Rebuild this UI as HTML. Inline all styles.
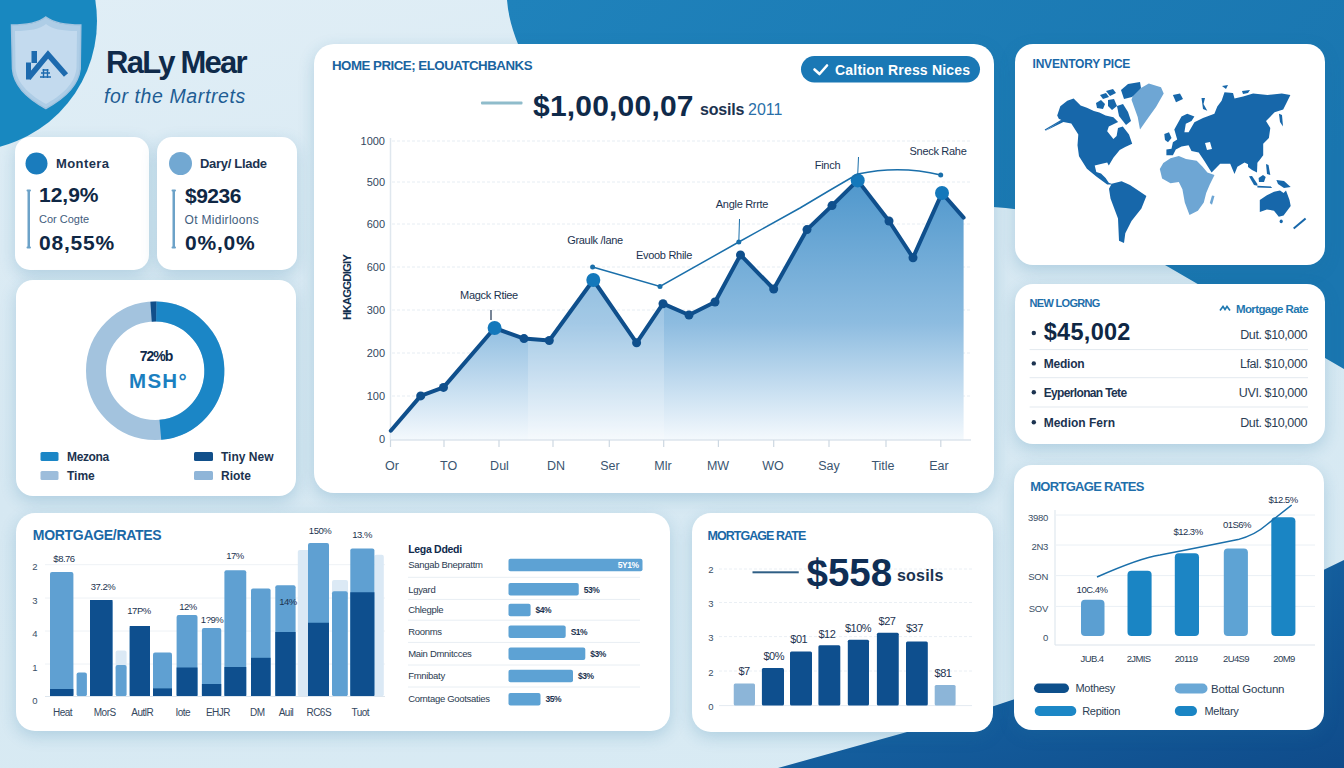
<!DOCTYPE html>
<html><head><meta charset="utf-8">
<style>
html,body{margin:0;padding:0;}
body{width:1344px;height:768px;overflow:hidden;position:relative;font-family:"Liberation Sans", sans-serif;
background:linear-gradient(170deg,#e0eef6 0%,#d6e8f2 50%,#d9ebf4 100%);}
.card{position:absolute;background:#fff;border-radius:16px;box-shadow:0 5px 16px rgba(30,115,160,0.22);}
svg{position:absolute;left:0;top:0;}
</style></head><body>
<svg width="1344" height="768" viewBox="0 0 1344 768" style="z-index:0">
<defs>
<linearGradient id="tr" x1="0" y1="0" x2="1" y2="0.4"><stop offset="0" stop-color="#1f82bb"/><stop offset="1" stop-color="#1a76b0"/></linearGradient>
<linearGradient id="br" x1="0" y1="0" x2="1" y2="1"><stop offset="0" stop-color="#1a72b2"/><stop offset="1" stop-color="#0f4b8a"/></linearGradient>
</defs>
<path d="M507,0 Q509,30 530,70 L700,170 Q850,205 993,207 C1070,212 1120,237 1165,265 L1344,369 L1344,0 Z" fill="url(#tr)"/>
<path d="M778,768 L907,732 Q1100,680 1344,560 L1344,768 Z" fill="url(#br)"/>
</svg>
<div class="card" style="left:15px;top:137px;width:134.0px;height:133.0px;border-radius:15px"></div>
<div class="card" style="left:156.5px;top:137px;width:140.0px;height:133.0px;border-radius:15px"></div>
<div class="card" style="left:16px;top:279.5px;width:279.5px;height:216.0px;border-radius:17px"></div>
<div class="card" style="left:313.5px;top:43.5px;width:680.0px;height:449.5px;border-radius:20px"></div>
<div class="card" style="left:1014.6px;top:43.7px;width:310.8px;height:221.3px;border-radius:18px"></div>
<div class="card" style="left:1014.8px;top:284.4px;width:310.2px;height:159.4px;border-radius:18px"></div>
<div class="card" style="left:1014.3px;top:465.4px;width:310.2px;height:264.3px;border-radius:18px"></div>
<div class="card" style="left:15.6px;top:512.5px;width:654.4px;height:218.8px;border-radius:19px"></div>
<div class="card" style="left:692px;top:513px;width:300.5px;height:219.0px;border-radius:19px"></div>
<svg width="1344" height="768" viewBox="0 0 1344 768" style="z-index:2;font-family:"Liberation Sans", sans-serif">
<circle cx="-33" cy="21" r="130" fill="#1888c0"/>
<path d="M45.8,17 C38,23 28,25 11.5,25 L12.5,69 C14,88 30,100 45.8,108.5 C61.6,100 78,88 80.2,69 L80.8,25 C64,25 54,23 45.8,17 Z" fill="#aecde6" stroke="#a2c3df" stroke-width="1.5"/>
<path d="M46,24 C40,29 30,31 15,31 L15.5,68 C17,85 32,96 46,104 C60,96 75,85 76.5,68 L77,31 C62,31 52,29 46,24 Z" fill="#c3daee"/>
<path d="M28.5,78 L48,54.5 L66,75" stroke="#1d6aae" stroke-width="5.5" fill="none" stroke-linecap="butt" stroke-linejoin="miter"/>
<rect x="26" y="62.5" width="5" height="17" rx="0" fill="#1d6aae" />
<rect x="31.5" y="51" width="5.5" height="12" rx="0" fill="#1d6aae" />
<path d="M40,77 h11 M41,73 h9 M42.5,70 h6 M43.5,69 v9 M47.5,69 v9" stroke="#1d6aae" stroke-width="1.4"/>
<text x="106" y="73" font-size="31" fill="#0f2a4a" font-weight="bold" letter-spacing="-1.75">RaLy Mear</text>
<text x="104" y="102.5" font-size="19.5" fill="#1e5d94" font-style="italic" letter-spacing="0.6">for the Martrets</text>
<circle cx="36.5" cy="163.5" r="11" fill="#1a7cbd"/>
<text x="56" y="168" font-size="13" fill="#1c3350" font-weight="bold" letter-spacing="0.4">Montera</text>
<rect x="27.5" y="190" width="2.5" height="58" rx="1" fill="#6ca2c8" />
<rect x="26.5" y="189.5" width="4.5" height="2" rx="1" fill="#6ca2c8" />
<rect x="26.5" y="246.5" width="4.5" height="2" rx="1" fill="#6ca2c8" />
<text x="39" y="201.5" font-size="21" fill="#0f2744" font-weight="bold">12,9%</text>
<text x="39" y="223" font-size="11" fill="#3f5d7d">Cor Cogte</text>
<text x="39" y="250" font-size="21" fill="#0f2744" font-weight="bold" letter-spacing="0.8">08,55%</text>
<circle cx="180.5" cy="163.5" r="11.5" fill="#72a8d2"/>
<text x="200" y="168" font-size="13" fill="#1c3350" font-weight="bold" letter-spacing="-0.3">Dary/ Llade</text>
<rect x="172.5" y="190" width="2.5" height="58" rx="1" fill="#6ca2c8" />
<rect x="171.5" y="189.5" width="4.5" height="2" rx="1" fill="#6ca2c8" />
<rect x="171.5" y="246.5" width="4.5" height="2" rx="1" fill="#6ca2c8" />
<text x="185" y="202.5" font-size="21" fill="#0f2744" font-weight="bold" letter-spacing="-0.5">$9236</text>
<text x="184.5" y="223.5" font-size="12" fill="#3f5d7d" letter-spacing="0.3">Ot Midirloons</text>
<text x="185" y="250" font-size="21" fill="#0f2744" font-weight="bold" letter-spacing="0.8">0%,0%</text>
<circle cx="155.2" cy="370.8" r="59.2" fill="none" stroke="#a3c3de" stroke-width="20.0"/>
<path d="M156.23,311.61 A59.2,59.2 0 0 1 160.36,429.77" fill="none" stroke="#1b86c6" stroke-width="20.0"/>
<path d="M151.07,311.74 A59.2,59.2 0 0 1 156.23,311.61" fill="none" stroke="#114f8a" stroke-width="20.0"/>
<text x="156" y="360.5" font-size="14" fill="#102a4c" font-weight="bold" text-anchor="middle" letter-spacing="-1">72%b</text>
<text x="158.5" y="387.5" font-size="20.5" fill="#1b7fc0" font-weight="bold" text-anchor="middle" letter-spacing="1.3">MSH°</text>
<rect x="40.5" y="452" width="18" height="9" rx="1.5" fill="#1b86c6" />
<text x="67" y="460.5" font-size="12" fill="#1c3350" font-weight="bold" letter-spacing="-0.35">Mezona</text>
<rect x="40.5" y="471" width="18" height="9" rx="1.5" fill="#9dbddb" />
<text x="67" y="479.5" font-size="12" fill="#1c3350" font-weight="bold">Time</text>
<rect x="194" y="452" width="19" height="9" rx="1.5" fill="#114f8a" />
<text x="221" y="460.5" font-size="12" fill="#1c3350" font-weight="bold">Tiny New</text>
<rect x="194" y="471" width="19" height="9" rx="1.5" fill="#8fb5d8" />
<text x="221" y="479.5" font-size="12" fill="#1c3350" font-weight="bold">Riote</text>
<text x="332" y="69.5" font-size="13.3" fill="#1a64a0" font-weight="bold" letter-spacing="-0.5">HOME PRICE; ELOUATCHBANKS</text>
<rect x="801" y="56" width="179" height="26.5" rx="13.25" fill="#1a78b5" />
<path d="M814.5,69.5 L819.5,74 L827,65.5" stroke="#fff" stroke-width="2.6" fill="none" stroke-linecap="round" stroke-linejoin="round"/>
<text x="835" y="74.5" font-size="14" fill="#ffffff" font-weight="bold" letter-spacing="0.2">Caltion Rress Nices</text>
<rect x="481" y="101.5" width="41.5" height="3" rx="1" fill="#8fbccb" />
<text x="533" y="115.5" font-size="30" fill="#0f2a4a" font-weight="bold" letter-spacing="0.2">$1,00,00,07</text>
<text x="700" y="114.5" font-size="16" fill="#1c3350" font-weight="bold" letter-spacing="-0.2">sosils</text>
<text x="748" y="114.5" font-size="16" fill="#2a6fa8">2011</text>
<line x1="392" y1="141" x2="970" y2="141" stroke="#e6edf3" stroke-width="1" stroke-dasharray="3,2"/>
<text x="385" y="145" font-size="11" fill="#33475e" text-anchor="end">1000</text>
<line x1="392" y1="182" x2="970" y2="182" stroke="#e6edf3" stroke-width="1" stroke-dasharray="3,2"/>
<text x="385" y="186" font-size="11" fill="#33475e" text-anchor="end">500</text>
<line x1="392" y1="224" x2="970" y2="224" stroke="#e6edf3" stroke-width="1" stroke-dasharray="3,2"/>
<text x="385" y="228" font-size="11" fill="#33475e" text-anchor="end">600</text>
<line x1="392" y1="267" x2="970" y2="267" stroke="#e6edf3" stroke-width="1" stroke-dasharray="3,2"/>
<text x="385" y="271" font-size="11" fill="#33475e" text-anchor="end">600</text>
<line x1="392" y1="310" x2="970" y2="310" stroke="#e6edf3" stroke-width="1" stroke-dasharray="3,2"/>
<text x="385" y="314" font-size="11" fill="#33475e" text-anchor="end">300</text>
<line x1="392" y1="353" x2="970" y2="353" stroke="#e6edf3" stroke-width="1" stroke-dasharray="3,2"/>
<text x="385" y="357" font-size="11" fill="#33475e" text-anchor="end">200</text>
<line x1="392" y1="396" x2="970" y2="396" stroke="#e6edf3" stroke-width="1" stroke-dasharray="3,2"/>
<text x="385" y="400" font-size="11" fill="#33475e" text-anchor="end">100</text>
<text x="385" y="443" font-size="11" fill="#33475e" text-anchor="end">0</text>
<line x1="390.5" y1="138" x2="390.5" y2="440" stroke="#dfe7ee" stroke-width="1.5"/>
<text x="0" y="0" font-size="11.5" font-weight="bold" fill="#12304f" text-anchor="middle" letter-spacing="-0.9" transform="translate(350.5,287.5) rotate(-90)">HKAGGDIGIY</text>
<defs><linearGradient id="af" x1="0" y1="0" x2="0" y2="1"><stop offset="0" stop-color="#4f97cc"/><stop offset="0.55" stop-color="#8dbce0"/><stop offset="1" stop-color="#f4f9fd"/></linearGradient></defs>
<path d="M390.8,430.7 L420.7,395.9 L443.5,387.4 L494.6,328 L524,338.6 L549.3,340.5 L593.3,280 L636.6,342.8 L663,303.7 L689,315 L715,302 L740.5,254.9 L773.7,289 L807,229.6 L832,205.6 L857.7,180.4 L889,221 L913,257.7 L942,193 L963.6,217.6 L963.6,440 L390.8,440 Z" fill="url(#af)"/>
<defs><clipPath id="ac"><path d="M390.8,430.7 L420.7,395.9 L443.5,387.4 L494.6,328 L524,338.6 L549.3,340.5 L593.3,280 L636.6,342.8 L663,303.7 L689,315 L715,302 L740.5,254.9 L773.7,289 L807,229.6 L832,205.6 L857.7,180.4 L889,221 L913,257.7 L942,193 L963.6,217.6 L963.6,440 L390.8,440 Z"/></clipPath></defs>
<rect x="528" y="150" width="136" height="290" fill="#ffffff" opacity="0.2" clip-path="url(#ac)"/>
<line x1="390" y1="440" x2="971" y2="440" stroke="#dce5ed" stroke-width="1.5"/>
<path d="M390.8,430.7 L420.7,395.9 L443.5,387.4 L494.6,328 L524,338.6 L549.3,340.5 L593.3,280 L636.6,342.8 L663,303.7 L689,315 L715,302 L740.5,254.9 L773.7,289 L807,229.6 L832,205.6 L857.7,180.4 L889,221 L913,257.7 L942,193 L963.6,217.6" fill="none" stroke="#0f4f8c" stroke-width="4" stroke-linejoin="round" stroke-linecap="round"/>
<circle cx="420.7" cy="395.9" r="4.5" fill="#0f4f8c"/>
<circle cx="443.5" cy="387.4" r="4.5" fill="#0f4f8c"/>
<circle cx="494.6" cy="328" r="4.5" fill="#0f4f8c"/>
<circle cx="524" cy="338.6" r="4.5" fill="#0f4f8c"/>
<circle cx="549.3" cy="340.5" r="4.5" fill="#0f4f8c"/>
<circle cx="593.3" cy="280" r="4.5" fill="#0f4f8c"/>
<circle cx="636.6" cy="342.8" r="4.5" fill="#0f4f8c"/>
<circle cx="663" cy="303.7" r="4.5" fill="#0f4f8c"/>
<circle cx="689" cy="315" r="4.5" fill="#0f4f8c"/>
<circle cx="715" cy="302" r="4.5" fill="#0f4f8c"/>
<circle cx="740.5" cy="254.9" r="4.5" fill="#0f4f8c"/>
<circle cx="773.7" cy="289" r="4.5" fill="#0f4f8c"/>
<circle cx="807" cy="229.6" r="4.5" fill="#0f4f8c"/>
<circle cx="832" cy="205.6" r="4.5" fill="#0f4f8c"/>
<circle cx="857.7" cy="180.4" r="4.5" fill="#0f4f8c"/>
<circle cx="889" cy="221" r="4.5" fill="#0f4f8c"/>
<circle cx="913" cy="257.7" r="4.5" fill="#0f4f8c"/>
<circle cx="942" cy="193" r="4.5" fill="#0f4f8c"/>
<circle cx="494.6" cy="328" r="7" fill="#1478bb"/>
<circle cx="593.3" cy="280" r="7" fill="#1478bb"/>
<circle cx="857.7" cy="180.4" r="7" fill="#1478bb"/>
<circle cx="942" cy="193" r="7" fill="#1478bb"/>
<line x1="390.5" y1="440" x2="390.5" y2="447" stroke="#cdd8e2" stroke-width="1.2"/>
<text x="392" y="470" font-size="12.5" fill="#3a5570" text-anchor="middle">Or</text>
<line x1="444" y1="440" x2="444" y2="447" stroke="#cdd8e2" stroke-width="1.2"/>
<text x="448.6" y="470" font-size="12.5" fill="#3a5570" text-anchor="middle">TO</text>
<line x1="499" y1="440" x2="499" y2="447" stroke="#cdd8e2" stroke-width="1.2"/>
<text x="499.5" y="470" font-size="12.5" fill="#3a5570" text-anchor="middle">Dul</text>
<line x1="553" y1="440" x2="553" y2="447" stroke="#cdd8e2" stroke-width="1.2"/>
<text x="556" y="470" font-size="12.5" fill="#3a5570" text-anchor="middle">DN</text>
<line x1="609.3" y1="440" x2="609.3" y2="447" stroke="#cdd8e2" stroke-width="1.2"/>
<text x="610" y="470" font-size="12.5" fill="#3a5570" text-anchor="middle">Ser</text>
<line x1="663.7" y1="440" x2="663.7" y2="447" stroke="#cdd8e2" stroke-width="1.2"/>
<text x="663" y="470" font-size="12.5" fill="#3a5570" text-anchor="middle">Mlr</text>
<line x1="718.4" y1="440" x2="718.4" y2="447" stroke="#cdd8e2" stroke-width="1.2"/>
<text x="718" y="470" font-size="12.5" fill="#3a5570" text-anchor="middle">MW</text>
<line x1="773.7" y1="440" x2="773.7" y2="447" stroke="#cdd8e2" stroke-width="1.2"/>
<text x="773" y="470" font-size="12.5" fill="#3a5570" text-anchor="middle">WO</text>
<line x1="829" y1="440" x2="829" y2="447" stroke="#cdd8e2" stroke-width="1.2"/>
<text x="829" y="470" font-size="12.5" fill="#3a5570" text-anchor="middle">Say</text>
<line x1="886" y1="440" x2="886" y2="447" stroke="#cdd8e2" stroke-width="1.2"/>
<text x="883" y="470" font-size="12.5" fill="#3a5570" text-anchor="middle">Title</text>
<line x1="940.8" y1="440" x2="940.8" y2="447" stroke="#cdd8e2" stroke-width="1.2"/>
<text x="939" y="470" font-size="12.5" fill="#3a5570" text-anchor="middle">Ear</text>
<path d="M592.6,267 L660,286.5 L738.8,242 L800,208 Q830,190 857.7,174 Q900,165 940.7,175" fill="none" stroke="#1a6faa" stroke-width="1.5"/>
<circle cx="592.6" cy="267" r="2.5" fill="#1a6faa"/>
<circle cx="660" cy="286.5" r="2.5" fill="#1a6faa"/>
<circle cx="738.8" cy="242" r="2.5" fill="#1a6faa"/>
<circle cx="940.7" cy="175" r="2.5" fill="#1a6faa"/>
<line x1="738.8" y1="242" x2="739.5" y2="219" stroke="#1a6faa" stroke-width="1"/>
<line x1="857.7" y1="175" x2="858.5" y2="157" stroke="#1a6faa" stroke-width="1"/>
<line x1="491" y1="310" x2="491" y2="320" stroke="#1c3350" stroke-width="1.2"/>
<text x="489" y="299" font-size="11" fill="#1c3350" text-anchor="middle" letter-spacing="-0.3">Magck Rtiee</text>
<text x="595" y="244" font-size="11" fill="#1c3350" text-anchor="middle" letter-spacing="-0.3">Graulk /lane</text>
<text x="664" y="258.5" font-size="11" fill="#1c3350" text-anchor="middle" letter-spacing="-0.3">Evoob Rhile</text>
<text x="742" y="207.5" font-size="11" fill="#1c3350" text-anchor="middle" letter-spacing="-0.3">Angle Rrrte</text>
<text x="827.5" y="168.5" font-size="11" fill="#1c3350" text-anchor="middle" letter-spacing="-0.3">Finch</text>
<text x="938" y="155" font-size="11" fill="#1c3350" text-anchor="middle" letter-spacing="-0.3">Sneck Rahe</text>
<text x="1032.5" y="67.5" font-size="12" fill="#1a68a8" font-weight="bold" letter-spacing="-0.2">INVENTORY PICE</text>
<path d="M1057.2,115.6 L1060.3,106.3 L1067.3,100.8 L1073.6,98.4 L1080.6,105.5 L1086.9,107.8 L1093.9,110.9 L1099.4,112.5 L1105.6,115.6 L1113.4,117.2 L1118.1,121.9 L1108.8,126.6 L1107.2,131.3 L1113.4,139.0 L1116.6,136.0 L1118.0,128.0 L1122.8,126.6 L1129.0,134.4 L1132.2,143.8 L1125.2,146.9 L1119.7,150.0 L1113.4,157.8 L1108.8,165.6 L1107.2,162.5 L1100.9,164.0 L1094.7,165.6 L1096.3,171.9 L1101.0,173.4 L1105.6,178.0 L1108.8,182.8 L1113.4,184.4 L1107.2,184.4 L1096.3,176.6 L1086.9,168.8 L1079.0,156.3 L1077.5,145.3 L1078.3,134.4 L1071.3,123.4 L1063.4,121.9 L1044.7,131.3 L1061.9,120.3 L1058.8,118.8 Z" fill="#1767aa"/>
<path d="M1111.7,183.8 L1121.6,181.3 L1130.0,185.0 L1139.0,191.0 L1146.4,196.0 L1141.4,208.5 L1131.5,220.9 L1125.3,233.2 L1124.0,243.0 L1119.0,240.7 L1118.0,218.4 L1110.5,198.6 L1109.0,188.7 Z" fill="#1767aa"/>
<path d="M1134.0,92.0 L1148.8,83.6 L1161.0,87.3 L1163.7,93.5 L1156.0,107.0 L1148.8,117.0 L1140.0,129.4 L1137.7,117.0 L1131.5,99.7 Z" fill="#6ea6d4"/>
<path d="M1121.0,90.0 L1128.0,84.0 L1140.0,82.0 L1141.0,88.0 L1132.0,97.0 L1124.0,99.0 Z" fill="#1767aa"/>
<path d="M1117.0,106.0 L1123.0,104.0 L1128.0,112.0 L1131.0,121.0 L1126.0,125.0 L1119.0,116.0 Z" fill="#1767aa"/>
<path d="M1096.0,103.0 L1101.0,100.0 L1105.0,104.0 L1103.0,109.0 L1097.0,108.0 Z" fill="#1767aa"/>
<path d="M1100.0,95.0 L1106.0,93.0 L1109.0,97.0 L1103.0,99.0 Z" fill="#1767aa"/>
<path d="M1106.0,91.0 L1113.0,89.0 L1116.0,93.0 L1110.0,96.0 Z" fill="#1767aa"/>
<path d="M1108.0,100.0 L1114.0,99.0 L1117.0,106.0 L1112.0,110.0 L1108.0,106.0 Z" fill="#1767aa"/>
<path d="M1166.4,155.2 L1166.4,149.5 L1171.5,148.8 L1172.9,142.3 L1177.2,139.5 L1174.3,129.4 L1181.5,116.6 L1187.2,113.7 L1194.4,116.6 L1191.5,120.9 L1185.8,123.7 L1184.4,132.3 L1188.6,132.3 L1194.4,122.3 L1203.0,118.0 L1214.4,113.7 L1217.3,106.5 L1221.6,100.8 L1224.5,92.2 L1233.0,92.9 L1234.5,98.6 L1243.1,96.5 L1253.1,93.6 L1267.5,95.0 L1281.8,93.6 L1290.4,95.0 L1286.1,103.7 L1283.2,109.4 L1274.6,112.3 L1266.0,120.9 L1270.3,128.0 L1268.9,138.0 L1263.2,143.8 L1263.2,155.2 L1258.9,161.0 L1253.1,166.7 L1244.5,162.4 L1237.4,166.7 L1234.5,173.9 L1230.2,163.8 L1220.2,163.8 L1211.6,172.4 L1204.4,161.0 L1198.7,152.4 L1191.5,151.0 L1188.6,145.2 L1181.5,146.6 L1175.8,149.5 L1172.9,155.2 Z" fill="#1767aa"/>
<path d="M1205.0,143.0 L1210.0,142.0 L1212.0,149.0 L1207.0,150.0 Z" fill="#ffffff"/>
<path d="M1159.8,169.0 L1163.3,163.1 L1170.5,158.3 L1178.8,156.0 L1186.0,158.9 L1196.7,160.7 L1202.6,166.7 L1207.4,172.6 L1214.5,175.0 L1209.8,184.5 L1206.2,192.9 L1203.8,202.4 L1197.9,210.7 L1189.5,214.9 L1184.8,202.4 L1182.4,189.3 L1178.8,182.1 L1170.5,183.3 L1162.1,178.6 Z" fill="#6ea6d4"/>
<path d="M1212.0,195.5 L1214.5,196.0 L1212.0,204.8 L1209.8,203.0 Z" fill="#6ea6d4"/>
<path d="M1259.8,200.0 L1266.9,195.2 L1274.0,191.7 L1280.0,190.5 L1283.6,192.9 L1286.0,190.5 L1289.5,200.0 L1290.7,206.0 L1283.6,215.5 L1278.8,216.7 L1274.0,210.7 L1266.9,209.5 L1259.8,211.9 Z" fill="#1767aa"/>
<ellipse cx="1281.2" cy="221.4" rx="1.6" ry="1.8" fill="#1767aa"/>
<path d="M1293.7,228.6 L1305.6,218.5" stroke="#1767aa" stroke-width="2"/>
<path d="M1248.0,162.0 L1257.4,162.0 L1257.0,172.6 L1252.0,170.0 L1248.0,167.0 Z" fill="#1767aa"/>
<path d="M1249.0,176.2 L1252.0,176.0 L1257.4,184.0 L1257.4,185.7 L1254.0,185.0 Z" fill="#1767aa"/>
<path d="M1257.4,185.7 L1271.7,186.5 L1271.7,188.0 L1257.4,187.5 Z" fill="#1767aa"/>
<path d="M1258.6,178.0 L1263.0,175.0 L1265.7,177.0 L1264.0,182.0 L1259.0,182.0 Z" fill="#1767aa"/>
<path d="M1276.4,180.0 L1284.0,181.0 L1290.7,187.0 L1284.0,188.0 L1278.0,184.0 Z" fill="#1767aa"/>
<path d="M1266.0,164.0 L1268.5,165.0 L1270.3,175.0 L1267.0,174.0 Z" fill="#1767aa"/>
<path d="M1164.3,134.0 L1169.0,132.3 L1171.5,138.0 L1168.0,142.3 L1165.0,140.0 Z" fill="#1767aa"/>
<path d="M1172.9,95.0 L1180.0,93.6 L1183.0,99.0 L1176.0,102.2 Z" fill="#1767aa"/>
<path d="M1201.5,98.0 L1205.0,98.0 L1203.5,104.0 L1207.3,110.8 L1203.0,109.0 Z" fill="#1767aa"/>
<path d="M1279.0,113.7 L1282.0,115.0 L1283.0,126.6 L1280.0,122.0 Z" fill="#1767aa"/>
<path d="M1242.0,91.0 L1250.0,90.0 L1248.0,93.0 L1243.0,94.0 Z" fill="#1767aa"/>
<path d="M1222.0,86.0 L1228.0,85.0 L1226.0,89.0 Z" fill="#1767aa"/>
<path d="M1045,130 L1062,120" stroke="#1767aa" stroke-width="1.2"/>
<text x="1029.6" y="306.7" font-size="11" fill="#1f6fab" font-weight="bold" letter-spacing="-0.7">NEW LOGRNG</text>
<path d="M1220,310.5 l3,-4 l2,3 l2,-3 l3,4" stroke="#1f78b0" stroke-width="1.6" fill="none"/>
<text x="1308" y="312.5" font-size="11.5" fill="#1f78b0" font-weight="bold" text-anchor="end" letter-spacing="-0.6">Mortgage Rate</text>
<circle cx="1033.8" cy="333" r="2.2" fill="#1c3350"/>
<text x="1043.7" y="339.5" font-size="23.5" fill="#0f2744" font-weight="bold" letter-spacing="0.3">$45,002</text>
<text x="1307" y="338.5" font-size="12.5" fill="#2c3e55" text-anchor="end" letter-spacing="-0.4">Dut. $10,000</text>
<line x1="1029.6" y1="349.6" x2="1308" y2="349.6" stroke="#e3e9ef" stroke-width="1"/>
<line x1="1029.6" y1="377.7" x2="1308" y2="377.7" stroke="#e3e9ef" stroke-width="1"/>
<line x1="1029.6" y1="407" x2="1308" y2="407" stroke="#e3e9ef" stroke-width="1"/>
<circle cx="1033.8" cy="363.4" r="2.2" fill="#1c3350"/>
<text x="1043.7" y="367.7" font-size="12" fill="#1c3350" font-weight="bold" letter-spacing="-0.2">Medion</text>
<text x="1307" y="367.9" font-size="12.5" fill="#2c3e55" text-anchor="end" letter-spacing="-0.4">Lfal. $10,000</text>
<circle cx="1033.8" cy="392.2" r="2.2" fill="#1c3350"/>
<text x="1043.7" y="396.5" font-size="12" fill="#1c3350" font-weight="bold" letter-spacing="-0.65">Eyperlonan Tete</text>
<text x="1307" y="396.7" font-size="12.5" fill="#2c3e55" text-anchor="end" letter-spacing="-0.4">UVI. $10,000</text>
<circle cx="1033.8" cy="422.2" r="2.2" fill="#1c3350"/>
<text x="1043.7" y="426.5" font-size="12" fill="#1c3350" font-weight="bold" letter-spacing="0">Medion Fern</text>
<text x="1307" y="426.7" font-size="12.5" fill="#2c3e55" text-anchor="end" letter-spacing="-0.4">Dut. $10,000</text>
<text x="1030.2" y="491.4" font-size="13" fill="#1f6fab" font-weight="bold" letter-spacing="-0.7">MORTGAGE RATES</text>
<text x="1048" y="520.9" font-size="9.5" fill="#3a4f66" text-anchor="end" letter-spacing="-0.3">3980</text>
<text x="1048" y="549.5" font-size="9.5" fill="#3a4f66" text-anchor="end" letter-spacing="-0.3">2N3</text>
<text x="1048" y="580.3" font-size="9.5" fill="#3a4f66" text-anchor="end" letter-spacing="-0.3">SON</text>
<text x="1048" y="611.8" font-size="9.5" fill="#3a4f66" text-anchor="end" letter-spacing="-0.3">SOV</text>
<text x="1048" y="641.1" font-size="9.5" fill="#3a4f66" text-anchor="end" letter-spacing="-0.3">0</text>
<line x1="1056" y1="515" x2="1315" y2="515" stroke="#eaf0f5" stroke-width="1"/>
<line x1="1056" y1="545" x2="1315" y2="545" stroke="#eaf0f5" stroke-width="1"/>
<line x1="1056" y1="575.6" x2="1315" y2="575.6" stroke="#eaf0f5" stroke-width="1"/>
<line x1="1056" y1="606.4" x2="1315" y2="606.4" stroke="#eaf0f5" stroke-width="1"/>
<line x1="1055" y1="510" x2="1055" y2="645" stroke="#e0e8ef" stroke-width="1.2"/>
<line x1="1055" y1="645" x2="1315" y2="645" stroke="#dbe4ec" stroke-width="1.2"/>
<rect x="1081" y="599.8" width="23.5" height="36.200000000000045" rx="4" fill="#5b9fd2" />
<rect x="1127.5" y="570.8" width="24.09999999999991" height="65.20000000000005" rx="4" fill="#1a85c4" />
<rect x="1174.8" y="553.3" width="24.200000000000045" height="82.70000000000005" rx="4" fill="#1c85c4" />
<rect x="1223.8" y="548.5" width="24.100000000000136" height="87.5" rx="4" fill="#5ea3d4" />
<rect x="1271.3" y="517.3" width="24.100000000000136" height="118.70000000000005" rx="4" fill="#1a85c4" />
<path d="M1097,577 Q1140,558 1160,555 L1197,547.7 L1238,539.6 Q1255,535 1265.7,525.5 L1291.7,505" fill="none" stroke="#1a6faa" stroke-width="1.5"/>
<text x="1092" y="592.5" font-size="9.5" fill="#1c3350" text-anchor="middle" letter-spacing="-0.5">10C.4%</text>
<text x="1188" y="535" font-size="9.5" fill="#1c3350" text-anchor="middle" letter-spacing="-0.5">$12.3%</text>
<text x="1237" y="527.5" font-size="9.5" fill="#1c3350" text-anchor="middle" letter-spacing="-0.5">01S6%</text>
<text x="1283" y="502.5" font-size="9.5" fill="#1c3350" text-anchor="middle" letter-spacing="-0.5">$12.5%</text>
<text x="1092" y="662" font-size="9.5" fill="#2c3e55" text-anchor="middle" letter-spacing="-0.6">JUB.4</text>
<text x="1138.6" y="662" font-size="9.5" fill="#2c3e55" text-anchor="middle" letter-spacing="-0.6">2JMIS</text>
<text x="1186" y="662" font-size="9.5" fill="#2c3e55" text-anchor="middle" letter-spacing="-0.6">20119</text>
<text x="1236" y="662" font-size="9.5" fill="#2c3e55" text-anchor="middle" letter-spacing="-0.6">2U4S9</text>
<text x="1284" y="662" font-size="9.5" fill="#2c3e55" text-anchor="middle" letter-spacing="-0.6">20M9</text>
<rect x="1034" y="683.5" width="35" height="9.5" rx="4.75" fill="#0d4f8b" />
<text x="1075.5" y="692" font-size="11" fill="#2c3e55" letter-spacing="-0.3">Mothesy</text>
<rect x="1034.7" y="706" width="41.6" height="10" rx="5" fill="#1c87c6" />
<text x="1082.2" y="715" font-size="11" fill="#2c3e55" letter-spacing="-0.3">Repition</text>
<rect x="1174.8" y="683.5" width="32.7" height="10" rx="5" fill="#6aa8d6" />
<text x="1211" y="692.5" font-size="11.5" fill="#2c3e55" letter-spacing="-0.2">Bottal Goctunn</text>
<rect x="1174.8" y="706" width="22.2" height="10" rx="5" fill="#1a85c4" />
<text x="1204.5" y="715" font-size="11" fill="#2c3e55" letter-spacing="-0.3">Meltary</text>
<text x="32.8" y="540" font-size="14" fill="#1a68a6" font-weight="bold" letter-spacing="-0.3">MORTGAGE/RATES</text>
<text x="35" y="570.1" font-size="9.5" fill="#3a4f66" text-anchor="middle">2</text>
<text x="35" y="603.5" font-size="9.5" fill="#3a4f66" text-anchor="middle">3</text>
<text x="35" y="637.25" font-size="9.5" fill="#3a4f66" text-anchor="middle">4</text>
<text x="35" y="670.5" font-size="9.5" fill="#3a4f66" text-anchor="middle">1</text>
<text x="35" y="703.5" font-size="9.5" fill="#3a4f66" text-anchor="middle">0</text>
<line x1="45" y1="564.7" x2="385" y2="564.7" stroke="#eef2f6" stroke-width="1"/>
<line x1="45" y1="598" x2="385" y2="598" stroke="#eef2f6" stroke-width="1"/>
<line x1="45" y1="631" x2="385" y2="631" stroke="#eef2f6" stroke-width="1"/>
<line x1="45" y1="664" x2="385" y2="664" stroke="#eef2f6" stroke-width="1"/>
<rect x="115.6" y="650.6" width="11" height="20" rx="2" fill="#dbe9f5" />
<rect x="297.8" y="550" width="12" height="146.25" rx="2" fill="#dbe9f5" />
<rect x="332" y="580" width="16" height="20" rx="2" fill="#dbe9f5" />
<rect x="374.4" y="554.7" width="9.4" height="141.5" rx="2" fill="#dbe9f5" />
<rect x="50" y="571.9" width="23.400000000000006" height="124.35000000000002" rx="2" fill="#5fa0d2" />
<path d="M50,689 H73.4 V696.25 H50 Z" fill="#0e4f8e"/>
<rect x="76.6" y="672.5" width="10.300000000000011" height="23.75" rx="2" fill="#5fa0d2" />
<rect x="90" y="600" width="22.5" height="96.25" rx="2" fill="#5fa0d2" />
<path d="M90,600 H112.5 V696.25 H90 Z" fill="#0e4f8e"/>
<rect x="115.6" y="665" width="11.0" height="31.25" rx="2" fill="#5fa0d2" />
<rect x="129.7" y="626" width="20.30000000000001" height="70.25" rx="2" fill="#5fa0d2" />
<path d="M129.7,626 H150 V696.25 H129.7 Z" fill="#0e4f8e"/>
<rect x="153" y="652.5" width="19" height="43.75" rx="2" fill="#5fa0d2" />
<path d="M153,688.4 H172 V696.25 H153 Z" fill="#0e4f8e"/>
<rect x="176.6" y="615" width="20.900000000000006" height="81.25" rx="2" fill="#5fa0d2" />
<path d="M176.6,667.5 H197.5 V696.25 H176.6 Z" fill="#0e4f8e"/>
<rect x="201.9" y="628" width="19.349999999999994" height="68.25" rx="2" fill="#5fa0d2" />
<path d="M201.9,684 H221.25 V696.25 H201.9 Z" fill="#0e4f8e"/>
<rect x="224.4" y="570.3" width="21.849999999999994" height="125.95000000000005" rx="2" fill="#5fa0d2" />
<path d="M224.4,667 H246.25 V696.25 H224.4 Z" fill="#0e4f8e"/>
<rect x="251" y="588.4" width="19.600000000000023" height="107.85000000000002" rx="2" fill="#5fa0d2" />
<path d="M251,657.8 H270.6 V696.25 H251 Z" fill="#0e4f8e"/>
<rect x="275.3" y="585.3" width="20.30000000000001" height="110.95000000000005" rx="2" fill="#5fa0d2" />
<path d="M275.3,631.9 H295.6 V696.25 H275.3 Z" fill="#0e4f8e"/>
<rect x="308" y="543" width="21" height="153.25" rx="2" fill="#5fa0d2" />
<path d="M308,622.8 H329 V696.25 H308 Z" fill="#0e4f8e"/>
<rect x="332" y="591.25" width="15.800000000000011" height="105.0" rx="2" fill="#5fa0d2" />
<rect x="350.3" y="548.4" width="24.099999999999966" height="147.85000000000002" rx="2" fill="#5fa0d2" />
<path d="M350.3,592.2 H374.4 V696.25 H350.3 Z" fill="#0e4f8e"/>
<line x1="45" y1="696.5" x2="385" y2="696.5" stroke="#dde6ee" stroke-width="1"/>
<text x="64" y="561.5" font-size="9.5" fill="#1c3350" text-anchor="middle" letter-spacing="-0.5">$8.76</text>
<text x="103" y="590" font-size="9.5" fill="#1c3350" text-anchor="middle" letter-spacing="-0.5">37.2%</text>
<text x="139" y="614" font-size="9.5" fill="#1c3350" text-anchor="middle" letter-spacing="-0.5">17P%</text>
<text x="188" y="609.5" font-size="9.5" fill="#1c3350" text-anchor="middle" letter-spacing="-0.5">12%</text>
<text x="212" y="622.5" font-size="9.5" fill="#1c3350" text-anchor="middle" letter-spacing="-0.5">1?9%</text>
<text x="235" y="558.5" font-size="9.5" fill="#1c3350" text-anchor="middle" letter-spacing="-0.5">17%</text>
<text x="288" y="604.5" font-size="9.5" fill="#1c3350" text-anchor="middle" letter-spacing="-0.5">14%</text>
<text x="320" y="533.5" font-size="9.5" fill="#1c3350" text-anchor="middle" letter-spacing="-0.5">150%</text>
<text x="362" y="538" font-size="9.5" fill="#1c3350" text-anchor="middle" letter-spacing="-0.5">13.%</text>
<text x="62.5" y="715.5" font-size="10" fill="#34475e" text-anchor="middle" letter-spacing="-0.5">Heat</text>
<text x="104.7" y="715.5" font-size="10" fill="#34475e" text-anchor="middle" letter-spacing="-0.5">MorS</text>
<text x="142.2" y="715.5" font-size="10" fill="#34475e" text-anchor="middle" letter-spacing="-0.5">AutlR</text>
<text x="182.8" y="715.5" font-size="10" fill="#34475e" text-anchor="middle" letter-spacing="-0.5">Iote</text>
<text x="218" y="715.5" font-size="10" fill="#34475e" text-anchor="middle" letter-spacing="-0.5">EHJR</text>
<text x="257.2" y="715.5" font-size="10" fill="#34475e" text-anchor="middle" letter-spacing="-0.5">DM</text>
<text x="286" y="715.5" font-size="10" fill="#34475e" text-anchor="middle" letter-spacing="-0.5">Auil</text>
<text x="318.75" y="715.5" font-size="10" fill="#34475e" text-anchor="middle" letter-spacing="-0.5">RC6S</text>
<text x="360.3" y="715.5" font-size="10" fill="#34475e" text-anchor="middle" letter-spacing="-0.5">Tuot</text>
<text x="408.2" y="553" font-size="10.5" fill="#102a4c" font-weight="bold" letter-spacing="-0.3">Lega Ddedi</text>
<text x="408.2" y="568.3" font-size="9.5" fill="#2a3a50" letter-spacing="-0.3">Sangab Bneprattm</text>
<rect x="508.5" y="558.8" width="134.0" height="12.5" rx="2" fill="#5da2d4" />
<text x="638.5" y="568.3" font-size="8.5" fill="#ffffff" font-weight="bold" text-anchor="end" letter-spacing="-0.5">5Y1%</text>
<text x="408.2" y="592.5" font-size="9.5" fill="#2a3a50" letter-spacing="-0.3">Lgyard</text>
<rect x="508.5" y="583" width="70.25" height="12.5" rx="2" fill="#5da2d4" />
<text x="583.75" y="592.5" font-size="8.5" fill="#1c3350" font-weight="bold" letter-spacing="-0.5">53%</text>
<text x="408.2" y="613.3" font-size="9.5" fill="#2a3a50" letter-spacing="-0.3">Chlegple</text>
<rect x="508.5" y="603.8" width="22.100000000000023" height="12.5" rx="2" fill="#5da2d4" />
<text x="535.6" y="613.3" font-size="8.5" fill="#1c3350" font-weight="bold" letter-spacing="-0.5">$4%</text>
<text x="408.2" y="634.9" font-size="9.5" fill="#2a3a50" letter-spacing="-0.3">Roonms</text>
<rect x="508.5" y="625.4" width="57.200000000000045" height="12.5" rx="2" fill="#5da2d4" />
<text x="570.7" y="634.9" font-size="8.5" fill="#1c3350" font-weight="bold" letter-spacing="-0.5">S1%</text>
<text x="408.2" y="657.1" font-size="9.5" fill="#2a3a50" letter-spacing="-0.3">Main Dmnitcces</text>
<rect x="508.5" y="647.6" width="76.79999999999995" height="12.5" rx="2" fill="#5da2d4" />
<text x="590.3" y="657.1" font-size="8.5" fill="#1c3350" font-weight="bold" letter-spacing="-0.5">$3%</text>
<text x="408.2" y="679.2" font-size="9.5" fill="#2a3a50" letter-spacing="-0.3">Fmnibaty</text>
<rect x="508.5" y="669.7" width="64.5" height="12.5" rx="2" fill="#5da2d4" />
<text x="578" y="679.2" font-size="8.5" fill="#1c3350" font-weight="bold" letter-spacing="-0.5">$3%</text>
<text x="408.2" y="702.4" font-size="9.5" fill="#2a3a50" letter-spacing="-0.3">Corntage Gootsaties</text>
<rect x="508.5" y="692.9" width="32.0" height="12.5" rx="2" fill="#5da2d4" />
<text x="545.5" y="702.4" font-size="8.5" fill="#1c3350" font-weight="bold" letter-spacing="-0.5">35%</text>
<line x1="408" y1="577.3" x2="640" y2="577.3" stroke="#e8eef3" stroke-width="1"/>
<line x1="408" y1="599.4" x2="640" y2="599.4" stroke="#e8eef3" stroke-width="1"/>
<line x1="408" y1="620.2" x2="640" y2="620.2" stroke="#e8eef3" stroke-width="1"/>
<line x1="408" y1="642.4" x2="640" y2="642.4" stroke="#e8eef3" stroke-width="1"/>
<line x1="408" y1="665" x2="640" y2="665" stroke="#e8eef3" stroke-width="1"/>
<line x1="408" y1="687" x2="640" y2="687" stroke="#e8eef3" stroke-width="1"/>
<text x="707.5" y="539.7" font-size="12.5" fill="#1a68a6" font-weight="bold" letter-spacing="-0.95">MORTGAGE RATE</text>
<text x="711" y="572.9" font-size="9.5" fill="#3a4f66" text-anchor="middle">2</text>
<text x="711" y="606.5" font-size="9.5" fill="#3a4f66" text-anchor="middle">3</text>
<text x="711" y="641.0" font-size="9.5" fill="#3a4f66" text-anchor="middle">3</text>
<text x="711" y="676.0" font-size="9.5" fill="#3a4f66" text-anchor="middle">2</text>
<text x="711" y="709.75" font-size="9.5" fill="#3a4f66" text-anchor="middle">0</text>
<line x1="719" y1="569" x2="972" y2="569" stroke="#eaeff4" stroke-width="1" stroke-dasharray="3,2"/>
<line x1="719" y1="602.5" x2="972" y2="602.5" stroke="#eaeff4" stroke-width="1" stroke-dasharray="3,2"/>
<line x1="719" y1="636.6" x2="972" y2="636.6" stroke="#eaeff4" stroke-width="1" stroke-dasharray="3,2"/>
<line x1="719" y1="671" x2="972" y2="671" stroke="#eaeff4" stroke-width="1" stroke-dasharray="3,2"/>
<line x1="719" y1="705.6" x2="972" y2="705.6" stroke="#e4ebf1" stroke-width="1"/>
<rect x="752.5" y="571.3" width="46.25" height="2" rx="0" fill="#2f5f85" />
<text x="806.5" y="586" font-size="38.5" fill="#0f2e55" font-weight="bold" letter-spacing="0">$558</text>
<text x="897" y="580.5" font-size="16" fill="#1c3350" font-weight="bold" letter-spacing="0.2">sosils</text>
<rect x="733.75" y="683.4" width="21.25" height="22.200000000000045" rx="1.5" fill="#8cb5d8" />
<rect x="761.9" y="668" width="22.100000000000023" height="37.60000000000002" rx="1.5" fill="#0e4f8e" />
<rect x="790" y="651.6" width="22" height="54.0" rx="1.5" fill="#0e4f8e" />
<rect x="818.4" y="645.3" width="21.899999999999977" height="60.30000000000007" rx="1.5" fill="#0e4f8e" />
<rect x="847.8" y="639.7" width="21.200000000000045" height="65.89999999999998" rx="1.5" fill="#0e4f8e" />
<rect x="876.9" y="632.8" width="21.850000000000023" height="72.80000000000007" rx="1.5" fill="#0e4f8e" />
<rect x="906" y="641.6" width="21.799999999999955" height="64.0" rx="1.5" fill="#0e4f8e" />
<rect x="934.7" y="685" width="20.899999999999977" height="20.600000000000023" rx="1.5" fill="#8cb5d8" />
<text x="744" y="675" font-size="11" fill="#1c3350" text-anchor="middle" letter-spacing="-0.5">$7</text>
<text x="773.75" y="659.5" font-size="11" fill="#1c3350" text-anchor="middle" letter-spacing="-0.5">$0%</text>
<text x="798.75" y="643" font-size="11" fill="#1c3350" text-anchor="middle" letter-spacing="-0.5">$01</text>
<text x="826.9" y="637.5" font-size="11" fill="#1c3350" text-anchor="middle" letter-spacing="-0.5">$12</text>
<text x="858" y="632" font-size="11" fill="#1c3350" text-anchor="middle" letter-spacing="-0.5">$10%</text>
<text x="887" y="625" font-size="11" fill="#1c3350" text-anchor="middle" letter-spacing="-0.5">$27</text>
<text x="914.4" y="632" font-size="11" fill="#1c3350" text-anchor="middle" letter-spacing="-0.5">$37</text>
<text x="943" y="676.5" font-size="11" fill="#1c3350" text-anchor="middle" letter-spacing="-0.5">$81</text>
</svg>
</body></html>
